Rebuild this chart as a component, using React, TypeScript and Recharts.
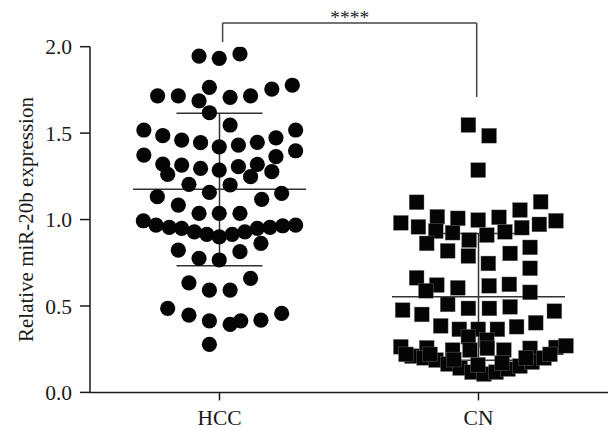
import React from 'react';
import {
  ScatterChart,
  Scatter,
  XAxis,
  YAxis,
  ReferenceLine,
  ReferenceDot,
} from 'recharts';

// Category names and their positions on the numeric x axis
const categories = ['HCC', 'CN'];
const categoryTicks = [0.5, 1.5];
const yTicks = [0, 0.5, 1.0, 1.5, 2.0];

// HCC group: x = category position + jitter (axis units), y = relative expression
const hccX = [
  0.421, 0.499, 0.579, 0.261, 0.341, 0.461, 0.421, 0.541, 0.62, 0.702, 0.781, 0.461, 0.541,
  0.208, 0.281, 0.354, 0.427, 0.499, 0.573, 0.646, 0.718, 0.794,
  0.208, 0.281, 0.354, 0.427, 0.499, 0.573, 0.646, 0.718, 0.794,
  0.3, 0.62, 0.702, 0.382, 0.541, 0.461, 0.74, 0.26, 0.663, 0.341, 0.421, 0.499, 0.579,
  0.206, 0.255, 0.306, 0.354, 0.403, 0.451, 0.499, 0.549, 0.598, 0.646, 0.695, 0.744, 0.794,
  0.341, 0.421, 0.499, 0.579, 0.66, 0.382, 0.461, 0.541, 0.62,
  0.3, 0.382, 0.461, 0.541, 0.582, 0.66, 0.74, 0.461,
];
const hccY = [
  1.946, 1.933, 1.958, 1.716, 1.716, 1.765, 1.686, 1.707, 1.716, 1.755, 1.777, 1.618, 1.547,
  1.518, 1.485, 1.46, 1.445, 1.421, 1.431, 1.447, 1.473, 1.518,
  1.373, 1.321, 1.315, 1.296, 1.286, 1.306, 1.319, 1.364, 1.398,
  1.261, 1.248, 1.277, 1.204, 1.2, 1.157, 1.152, 1.132, 1.117, 1.084, 1.036, 1.036, 1.036,
  0.993, 0.968, 0.955, 0.949, 0.929, 0.914, 0.9, 0.914, 0.929, 0.949, 0.955, 0.964, 0.968,
  0.823, 0.775, 0.766, 0.814, 0.862, 0.634, 0.592, 0.592, 0.66,
  0.486, 0.447, 0.414, 0.393, 0.414, 0.418, 0.457, 0.278,
];

// CN group
const cnX = [
  1.461, 1.541, 1.499, 1.261, 1.74,
  1.2, 1.268, 1.341, 1.42, 1.499, 1.579, 1.66, 1.735, 1.799,
  1.335, 1.4, 1.532, 1.602, 1.667, 1.3, 1.464, 1.381, 1.461, 1.622, 1.699, 1.538, 1.699,
  1.261, 1.339, 1.297, 1.42, 1.541, 1.619, 1.699,
  1.207, 1.281, 1.381, 1.461, 1.542, 1.622, 1.793,
  1.354, 1.426, 1.499, 1.573, 1.647, 1.721, 1.461, 1.532,
  1.2, 1.3, 1.4, 1.467, 1.534, 1.598, 1.699, 1.799,
  1.243, 1.29, 1.336, 1.382, 1.429, 1.475, 1.521, 1.568, 1.614, 1.66, 1.707, 1.753, 1.838,
  1.22, 1.313, 1.405, 1.498, 1.591, 1.683, 1.776,
];
const cnY = [
  1.547, 1.485, 1.286, 1.1, 1.103,
  0.981, 0.958, 1.016, 1.007, 0.997, 1.013, 1.055, 0.972, 0.993,
  0.933, 0.924, 0.91, 0.929, 0.953, 0.862, 0.881, 0.819, 0.789, 0.804, 0.839, 0.746, 0.718,
  0.663, 0.621, 0.588, 0.605, 0.617, 0.625, 0.579,
  0.476, 0.451, 0.509, 0.486, 0.486, 0.495, 0.47,
  0.385, 0.365, 0.365, 0.365, 0.38, 0.403, 0.322, 0.303,
  0.264, 0.258, 0.245, 0.245, 0.255, 0.245, 0.255, 0.26,
  0.21, 0.2, 0.187, 0.164, 0.141, 0.117, 0.106, 0.117, 0.135, 0.152, 0.175, 0.199, 0.27,
  0.22, 0.22, 0.19, 0.16, 0.17, 0.2, 0.22,
];

// Group summaries (mean, mean-SD, mean+SD)
const groupMean = [1.175, 0.553];
const groupLower = [0.733, 0.186];
const groupUpper = [1.615, 0.92];

// Significance bracket
const bracketLabel = '****';
const bracketLeftX = 0.512;
const bracketRightX = 1.493;
const bracketTopY = 2.137;
const bracketLeftEndY = 2.027;
const bracketRightEndY = 1.709;

const hccData = hccX.map((x, i) => ({ x, y: hccY[i] }));
const cnData = cnX.map((x, i) => ({ x, y: cnY[i] }));

const FONT = '"Liberation Serif", "Times New Roman", serif';
const AXIS = '#1a1a1a';
const LINE = '#333';

const Circle = (props: any) => {
  const { cx, cy } = props;
  if (cx == null || cy == null) return null;
  return <circle cx={cx} cy={cy} r={7.6} fill="#050505" />;
};

const Square = (props: any) => {
  const { cx, cy } = props;
  if (cx == null || cy == null) return null;
  const s = 14.8;
  return <rect x={cx - s / 2} y={cy - s / 2} width={s} height={s} fill="#050505" stroke="#777" strokeWidth={0.4} />;
};

const MEAN_HALF = 0.334;
const SD_HALF = 0.166;

export default function App() {
  return (
    <div style={{ position: 'absolute', left: 0, top: 0, width: 608, height: 430, background: '#fff' }}>
      <ScatterChart
        width={608}
        height={430}
        margin={{ top: 46.7, right: 0, bottom: 0, left: 0 }}
        style={{ fontFamily: FONT }}
      >
        <XAxis
          type="number"
          dataKey="x"
          domain={[0, 2]}
          ticks={categoryTicks}
          tickFormatter={(v: number) => categories[categoryTicks.indexOf(v)] ?? ''}
          height={37.6}
          axisLine={{ stroke: AXIS, strokeWidth: 1.5 }}
          tickLine={{ stroke: AXIS, strokeWidth: 1.5 }}
          tickSize={8}
          tickMargin={9}
          tick={{ fill: '#1a1a1a', fontSize: 21.5, fontFamily: FONT }}
          allowDataOverflow
        />
        <YAxis
          type="number"
          dataKey="y"
          domain={[0, 2]}
          ticks={yTicks}
          tickFormatter={(v: number) => v.toFixed(1)}
          width={90}
          axisLine={{ stroke: AXIS, strokeWidth: 1.5 }}
          tickLine={{ stroke: AXIS, strokeWidth: 1.5 }}
          tickSize={10}
          tickMargin={8}
          tick={{ fill: '#1a1a1a', fontSize: 21.5, fontFamily: FONT }}
          label={{
            value: 'Relative miR-20b expression',
            angle: -90,
            position: 'insideLeft',
            offset: 26,
            style: { textAnchor: 'middle', fill: '#1a1a1a', fontSize: 21, fontFamily: FONT },
          }}
          allowDataOverflow
        />
        <Scatter name="HCC" data={hccData} shape={Circle} isAnimationActive={false} />
        <Scatter name="CN" data={cnData} shape={Square} isAnimationActive={false} />

        {categoryTicks.map((c, i) => (
          <ReferenceLine
            key={`mean-${i}`}
            segment={[{ x: c - MEAN_HALF, y: groupMean[i] }, { x: c + MEAN_HALF, y: groupMean[i] }]}
            stroke={LINE}
            strokeWidth={1.5}
            ifOverflow="visible"
          />
        ))}
        {categoryTicks.map((c, i) => (
          <ReferenceLine
            key={`up-${i}`}
            segment={[{ x: c - SD_HALF, y: groupUpper[i] }, { x: c + SD_HALF, y: groupUpper[i] }]}
            stroke={LINE}
            strokeWidth={1.5}
            ifOverflow="visible"
          />
        ))}
        {categoryTicks.map((c, i) => (
          <ReferenceLine
            key={`lo-${i}`}
            segment={[{ x: c - SD_HALF, y: groupLower[i] }, { x: c + SD_HALF, y: groupLower[i] }]}
            stroke={LINE}
            strokeWidth={1.5}
            ifOverflow="visible"
          />
        ))}
        {categoryTicks.map((c, i) => (
          <ReferenceLine
            key={`v-${i}`}
            segment={[{ x: c, y: groupLower[i] }, { x: c, y: groupUpper[i] }]}
            stroke={LINE}
            strokeWidth={1.5}
            ifOverflow="visible"
          />
        ))}

        <ReferenceLine
          segment={[{ x: bracketLeftX, y: bracketTopY }, { x: bracketRightX, y: bracketTopY }]}
          stroke="#444"
          strokeWidth={1.5}
          ifOverflow="visible"
        />
        <ReferenceLine
          segment={[{ x: bracketLeftX, y: bracketTopY }, { x: bracketLeftX, y: bracketLeftEndY }]}
          stroke="#444"
          strokeWidth={1.5}
          ifOverflow="visible"
        />
        <ReferenceLine
          segment={[{ x: bracketRightX, y: bracketTopY }, { x: bracketRightX, y: bracketRightEndY }]}
          stroke="#444"
          strokeWidth={1.5}
          ifOverflow="visible"
        />
        <ReferenceDot
          x={(bracketLeftX + bracketRightX) / 2}
          y={2.17}
          r={0}
          ifOverflow="visible"
          fill="none"
          stroke="none"
          label={{ value: bracketLabel, position: 'center', fill: '#222', fontSize: 19.5, fontFamily: FONT }}
        />
      </ScatterChart>
    </div>
  );
}
